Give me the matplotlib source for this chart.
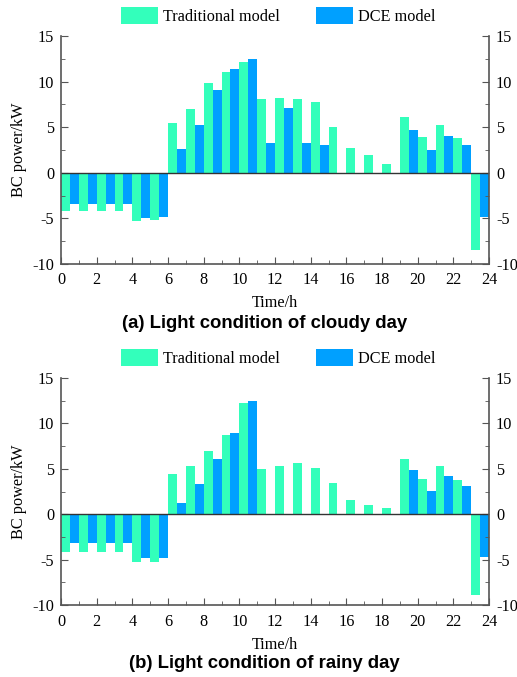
import numpy as np
import matplotlib.pyplot as plt
from matplotlib.ticker import MultipleLocator

# ==============================
# DATA
# ==============================

hours = np.arange(24)

cloudy_traditional = [-4.2, -4.2, -4.2, -4.2, -5.3, -5.15, 5.5, 7.0, 9.8, 11.0, 12.1, 8.05,
                      8.2, 8.1, 7.75, 5.0, 2.7, 1.9, 1.0, 6.1, 3.9, 5.2, 3.8, -8.5]
cloudy_dce = [-3.4, -3.4, -3.4, -3.4, -5.0, -4.9, 2.6, 5.2, 9.1, 11.4, 12.5, 3.25,
              7.1, 3.3, 3.0, 0, 0, 0, 0, 4.7, 2.5, 4.05, 3.0, -4.9]

rainy_traditional = [-4.2, -4.2, -4.2, -4.2, -5.3, -5.3, 4.4, 5.3, 7.0, 8.7, 12.2, 5.0,
                     5.3, 5.6, 5.1, 3.4, 1.6, 1.0, 0.7, 6.05, 3.9, 5.3, 3.8, -8.9]
rainy_dce = [-3.2, -3.2, -3.2, -3.2, -4.85, -4.85, 1.25, 3.3, 6.1, 8.9, 12.4, 0,
             0, 0, 0, 0, 0, 0, 0, 4.9, 2.6, 4.25, 3.15, -4.75]

titles = ["(a) Light condition of cloudy day", "(b) Light condition of rainy day"]
series_labels = ["Traditional model", "DCE model"]

TRAD_COLOR = "#33FFBB"
DCE_COLOR = "#00A0FF"
AXIS_COLOR = "#555555"

plt.rcParams["font.family"] = ["Liberation Serif", "DejaVu Serif"]
plt.rcParams["axes.unicode_minus"] = False


# ==============================
# VISUALIZATION
# ==============================

def draw_panel(fig, rect, trad, dce, title, title_y, legend_y):
    ax = fig.add_axes(rect)
    ax.bar(hours, trad, width=0.5, align="edge", color=TRAD_COLOR, label=series_labels[0])
    ax.bar(hours + 0.5, dce, width=0.5, align="edge", color=DCE_COLOR, label=series_labels[1])
    ax.axhline(0, color="#333333", lw=1.0)

    ax.set_xlim(0, 24)
    ax.set_ylim(-10, 15)
    ax.xaxis.set_major_locator(MultipleLocator(2))
    ax.xaxis.set_minor_locator(MultipleLocator(1))
    ax.yaxis.set_major_locator(MultipleLocator(5))
    ax.yaxis.set_minor_locator(MultipleLocator(2.5))
    ax.tick_params(which="both", direction="in", right=True, labelright=True,
                   color=AXIS_COLOR, labelsize=11.7)
    ax.tick_params(axis="y", pad=5)
    ax.tick_params(axis="x", pad=6)
    ax.tick_params(which="major", length=5)
    ax.tick_params(which="minor", length=3)

    ax.spines["top"].set_visible(False)
    for s in ["left", "right", "bottom"]:
        ax.spines[s].set_color(AXIS_COLOR)
        ax.spines[s].set_linewidth(1.2)

    ax.set_xlabel("Time/h", fontsize=11.7, labelpad=5)
    ax.set_ylabel("BC power/kW", fontsize=11.7, labelpad=4)
    fig.text(0.5 + 0.012, title_y, title, ha="center", va="center", fontsize=13.3,
             fontweight="bold", family=["Liberation Sans", "DejaVu Sans"])

    ax.legend(loc="center", bbox_to_anchor=(0.538, legend_y), ncol=2, frameon=False,
              fontsize=11.7, handlelength=2.27, handleheight=1.17, columnspacing=2.27,
              handletextpad=0.3, borderpad=0, bbox_transform=fig.transFigure)
    return ax


fig = plt.figure(figsize=(5.17, 6.77), dpi=100)

draw_panel(fig, [0.118, 0.610, 0.828, 0.337], cloudy_traditional, cloudy_dce,
           titles[0], 1 - 323 / 677, 1 - 16 / 677)
draw_panel(fig, [0.118, 0.106, 0.828, 0.336], rainy_traditional, rainy_dce,
           titles[1], 1 - 664 / 677, 1 - 358 / 677)

fig.savefig("out.png", dpi=100)
plt.close()
